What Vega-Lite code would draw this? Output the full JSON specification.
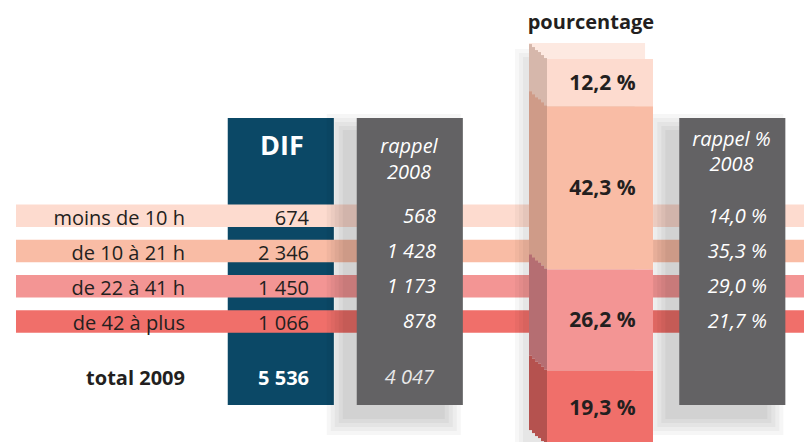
{
"$schema":"https://vega.github.io/schema/vega-lite/v6.json",
"width":804,"height":442,"padding":0,"autosize":{"type":"none"},
"background":"#ffffff",
"config":{"view":{"stroke":null},"axis":{"disable":true},"legend":{"disable":true},"text":{"font":"Open Sans"},
"locale":{"number":{"decimal":",","thousands":" ","grouping":[3],"currency":["","\u00a0€"],"percent":" %"}}},
"datasets":{
"lignes":[
{"categorie":"moins de 10 h","ordre":1,"dif":674,"rappel":568,"part":0.122,"partRappel":0.140},
{"categorie":"de 10 à 21 h","ordre":2,"dif":2346,"rappel":1428,"part":0.423,"partRappel":0.353},
{"categorie":"de 22 à 41 h","ordre":3,"dif":1450,"rappel":1173,"part":0.262,"partRappel":0.290},
{"categorie":"de 42 à plus","ordre":4,"dif":1066,"rappel":878,"part":0.193,"partRappel":0.217}],
"totaux":[{"libelle":"total 2009","dif":5536,"rappel":4047}],
"colonnes":[{"colonne":"DIF"},{"colonne":"rappel 2008"},{"colonne":"rappel % 2008"}]
},
"layer":[
{"layer":[
{"data":{"name":"colonnes"},"transform":[{"filter":"datum.colonne === 'DIF'"}],
"mark":{"type":"rect","color":"#0b4866"},
"encoding":{"x":{"field":"colonne","type":"nominal","scale":{"type":"band","domain":["g1","g2","libellé","DIF","g3","rappel 2008","g4","g5","pourcentage","g6","rappel % 2008"],"paddingInner":0,"paddingOuter":0.7326,"align":0.574},"bandPosition":-0.31},
"x2":{"field":"colonne","bandPosition":1.335},
"y":{"datum":"h3","type":"nominal","scale":{"type":"band","domain":["h1","h2","h3","h4","h5","moins de 10 h","de 10 à 21 h","de 22 à 41 h","de 42 à plus","b1","total 2009"],"paddingInner":0,"paddingOuter":0.778,"align":0.405},"bandPosition":0.722},
"y2":{"datum":"total 2009","bandPosition":0.875}}},
{"data":{"name":"lignes"},"mark":{"type":"rect"},
"encoding":{"x":{"datum":"g1","type":"nominal","scale":{"type":"band","domain":["g1","g2","libellé","DIF","g3","rappel 2008","g4","g5","pourcentage","g6","rappel % 2008"],"paddingInner":0,"paddingOuter":0.7326,"align":0.574},"bandPosition":-0.593},
"x2":{"datum":"rappel % 2008","bandPosition":1.7},
"y":{"field":"categorie","type":"nominal","scale":{"type":"band","domain":["h1","h2","h3","h4","h5","moins de 10 h","de 10 à 21 h","de 22 à 41 h","de 42 à plus","b1","total 2009"],"paddingInner":0,"paddingOuter":0.778,"align":0.405},"bandPosition":0.18},
"y2":{"field":"categorie","bandPosition":0.82},
"color":{"field":"categorie","type":"nominal","scale":{"domain":["moins de 10 h","de 10 à 21 h","de 22 à 41 h","de 42 à plus"],"range":["#fddbcf","#f9bca5","#f39594","#f06f6a"]},"legend":null}}},
{"data":{"name":"colonnes"},"transform":[{"filter":"datum.colonne !== 'DIF'"}],
"mark":{"type":"rect","color":"#000000","opacity":0.035,"xOffset":-30,"x2Offset":-2,"yOffset":-4,"y2Offset":30},
"encoding":{"x":{"field":"colonne","type":"nominal","scale":{"type":"band","domain":["g1","g2","libellé","DIF","g3","rappel 2008","g4","g5","pourcentage","g6","rappel % 2008"],"paddingInner":0,"paddingOuter":0.7326,"align":0.574},"bandPosition":-0.31},
"x2":{"field":"colonne","bandPosition":1.335},
"y":{"datum":"h3","type":"nominal","scale":{"type":"band","domain":["h1","h2","h3","h4","h5","moins de 10 h","de 10 à 21 h","de 22 à 41 h","de 42 à plus","b1","total 2009"],"paddingInner":0,"paddingOuter":0.778,"align":0.405},"bandPosition":0.722},
"y2":{"datum":"total 2009","bandPosition":0.875}}},
{"data":{"name":"colonnes"},"transform":[{"filter":"datum.colonne !== 'DIF'"}],
"mark":{"type":"rect","color":"#000000","opacity":0.035,"xOffset":-26,"x2Offset":-6,"yOffset":0,"y2Offset":26},
"encoding":{"x":{"field":"colonne","type":"nominal","scale":{"type":"band","domain":["g1","g2","libellé","DIF","g3","rappel 2008","g4","g5","pourcentage","g6","rappel % 2008"],"paddingInner":0,"paddingOuter":0.7326,"align":0.574},"bandPosition":-0.31},
"x2":{"field":"colonne","bandPosition":1.335},
"y":{"datum":"h3","type":"nominal","scale":{"type":"band","domain":["h1","h2","h3","h4","h5","moins de 10 h","de 10 à 21 h","de 22 à 41 h","de 42 à plus","b1","total 2009"],"paddingInner":0,"paddingOuter":0.778,"align":0.405},"bandPosition":0.722},
"y2":{"datum":"total 2009","bandPosition":0.875}}},
{"data":{"name":"colonnes"},"transform":[{"filter":"datum.colonne !== 'DIF'"}],
"mark":{"type":"rect","color":"#000000","opacity":0.035,"xOffset":-22,"x2Offset":-10,"yOffset":4,"y2Offset":22},
"encoding":{"x":{"field":"colonne","type":"nominal","scale":{"type":"band","domain":["g1","g2","libellé","DIF","g3","rappel 2008","g4","g5","pourcentage","g6","rappel % 2008"],"paddingInner":0,"paddingOuter":0.7326,"align":0.574},"bandPosition":-0.31},
"x2":{"field":"colonne","bandPosition":1.335},
"y":{"datum":"h3","type":"nominal","scale":{"type":"band","domain":["h1","h2","h3","h4","h5","moins de 10 h","de 10 à 21 h","de 22 à 41 h","de 42 à plus","b1","total 2009"],"paddingInner":0,"paddingOuter":0.778,"align":0.405},"bandPosition":0.722},
"y2":{"datum":"total 2009","bandPosition":0.875}}},
{"data":{"name":"colonnes"},"transform":[{"filter":"datum.colonne !== 'DIF'"}],
"mark":{"type":"rect","color":"#000000","opacity":0.035,"xOffset":-18,"x2Offset":-14,"yOffset":8,"y2Offset":18},
"encoding":{"x":{"field":"colonne","type":"nominal","scale":{"type":"band","domain":["g1","g2","libellé","DIF","g3","rappel 2008","g4","g5","pourcentage","g6","rappel % 2008"],"paddingInner":0,"paddingOuter":0.7326,"align":0.574},"bandPosition":-0.31},
"x2":{"field":"colonne","bandPosition":1.335},
"y":{"datum":"h3","type":"nominal","scale":{"type":"band","domain":["h1","h2","h3","h4","h5","moins de 10 h","de 10 à 21 h","de 22 à 41 h","de 42 à plus","b1","total 2009"],"paddingInner":0,"paddingOuter":0.778,"align":0.405},"bandPosition":0.722},
"y2":{"datum":"total 2009","bandPosition":0.875}}},
{"data":{"name":"colonnes"},"transform":[{"filter":"datum.colonne !== 'DIF'"}],
"mark":{"type":"rect","color":"#000000","opacity":0.04,"xOffset":-14,"x2Offset":-18,"yOffset":12,"y2Offset":14},
"encoding":{"x":{"field":"colonne","type":"nominal","scale":{"type":"band","domain":["g1","g2","libellé","DIF","g3","rappel 2008","g4","g5","pourcentage","g6","rappel % 2008"],"paddingInner":0,"paddingOuter":0.7326,"align":0.574},"bandPosition":-0.31},
"x2":{"field":"colonne","bandPosition":1.335},
"y":{"datum":"h3","type":"nominal","scale":{"type":"band","domain":["h1","h2","h3","h4","h5","moins de 10 h","de 10 à 21 h","de 22 à 41 h","de 42 à plus","b1","total 2009"],"paddingInner":0,"paddingOuter":0.778,"align":0.405},"bandPosition":0.722},
"y2":{"datum":"total 2009","bandPosition":0.875}}},
{"data":{"name":"colonnes"},"transform":[{"filter":"datum.colonne !== 'DIF'"}],
"mark":{"type":"rect","color":"#636264"},
"encoding":{"x":{"field":"colonne","type":"nominal","scale":{"type":"band","domain":["g1","g2","libellé","DIF","g3","rappel 2008","g4","g5","pourcentage","g6","rappel % 2008"],"paddingInner":0,"paddingOuter":0.7326,"align":0.574},"bandPosition":-0.31},
"x2":{"field":"colonne","bandPosition":1.335},
"y":{"datum":"h3","type":"nominal","scale":{"type":"band","domain":["h1","h2","h3","h4","h5","moins de 10 h","de 10 à 21 h","de 22 à 41 h","de 42 à plus","b1","total 2009"],"paddingInner":0,"paddingOuter":0.778,"align":0.405},"bandPosition":0.722},
"y2":{"datum":"total 2009","bandPosition":0.875}}},
{"data":{"name":"lignes"},"mark":{"type":"text","align":"right","baseline":"alphabetic","dy":9,"fontSize":20,"color":"#231f20"},
"encoding":{"x":{"datum":"libellé","type":"nominal","scale":{"type":"band","domain":["g1","g2","libellé","DIF","g3","rappel 2008","g4","g5","pourcentage","g6","rappel % 2008"],"paddingInner":0,"paddingOuter":0.7326,"align":0.574},"bandPosition":0.027},
"y":{"field":"categorie","type":"nominal","scale":{"type":"band","domain":["h1","h2","h3","h4","h5","moins de 10 h","de 10 à 21 h","de 22 à 41 h","de 42 à plus","b1","total 2009"],"paddingInner":0,"paddingOuter":0.778,"align":0.405}},
"text":{"field":"categorie"}}},
{"data":{"name":"lignes"},"mark":{"type":"text","align":"right","baseline":"alphabetic","dy":9,"fontSize":20,"color":"#231f20"},
"encoding":{"x":{"datum":"DIF","type":"nominal","scale":{"type":"band","domain":["g1","g2","libellé","DIF","g3","rappel 2008","g4","g5","pourcentage","g6","rappel % 2008"],"paddingInner":0,"paddingOuter":0.7326,"align":0.574},"bandPosition":0.95},
"y":{"field":"categorie","type":"nominal","scale":{"type":"band","domain":["h1","h2","h3","h4","h5","moins de 10 h","de 10 à 21 h","de 22 à 41 h","de 42 à plus","b1","total 2009"],"paddingInner":0,"paddingOuter":0.778,"align":0.405}},
"text":{"field":"dif","type":"quantitative","format":",.0f"}}},
{"data":{"name":"lignes"},"mark":{"type":"text","align":"right","baseline":"alphabetic","dy":7,"fontSize":20,"fontStyle":"italic","color":"#ffffff"},
"encoding":{"x":{"datum":"rappel 2008","type":"nominal","scale":{"type":"band","domain":["g1","g2","libellé","DIF","g3","rappel 2008","g4","g5","pourcentage","g6","rappel % 2008"],"paddingInner":0,"paddingOuter":0.7326,"align":0.574},"bandPosition":0.919},
"y":{"field":"categorie","type":"nominal","scale":{"type":"band","domain":["h1","h2","h3","h4","h5","moins de 10 h","de 10 à 21 h","de 22 à 41 h","de 42 à plus","b1","total 2009"],"paddingInner":0,"paddingOuter":0.778,"align":0.405}},
"text":{"field":"rappel","type":"quantitative","format":",.0f"}}},
{"data":{"name":"lignes"},"mark":{"type":"text","align":"right","baseline":"alphabetic","dy":7,"fontSize":20,"fontStyle":"italic","color":"#ffffff"},
"encoding":{"x":{"datum":"rappel % 2008","type":"nominal","scale":{"type":"band","domain":["g1","g2","libellé","DIF","g3","rappel 2008","g4","g5","pourcentage","g6","rappel % 2008"],"paddingInner":0,"paddingOuter":0.7326,"align":0.574},"bandPosition":1.05},
"y":{"field":"categorie","type":"nominal","scale":{"type":"band","domain":["h1","h2","h3","h4","h5","moins de 10 h","de 10 à 21 h","de 22 à 41 h","de 42 à plus","b1","total 2009"],"paddingInner":0,"paddingOuter":0.778,"align":0.405}},
"text":{"field":"partRappel","type":"quantitative","format":".1%"}}},
{"data":{"name":"totaux"},"mark":{"type":"text","align":"right","baseline":"alphabetic","dy":-7,"fontSize":20,"fontWeight":"bold","color":"#231f20"},
"encoding":{"x":{"datum":"libellé","type":"nominal","scale":{"type":"band","domain":["g1","g2","libellé","DIF","g3","rappel 2008","g4","g5","pourcentage","g6","rappel % 2008"],"paddingInner":0,"paddingOuter":0.7326,"align":0.574},"bandPosition":0.027},
"y":{"field":"libelle","type":"nominal","scale":{"type":"band","domain":["h1","h2","h3","h4","h5","moins de 10 h","de 10 à 21 h","de 22 à 41 h","de 42 à plus","b1","total 2009"],"paddingInner":0,"paddingOuter":0.778,"align":0.405}},
"text":{"field":"libelle"}}},
{"data":{"name":"totaux"},"mark":{"type":"text","align":"right","baseline":"alphabetic","dy":-7,"fontSize":20,"fontWeight":"bold","color":"#ffffff"},
"encoding":{"x":{"datum":"DIF","type":"nominal","scale":{"type":"band","domain":["g1","g2","libellé","DIF","g3","rappel 2008","g4","g5","pourcentage","g6","rappel % 2008"],"paddingInner":0,"paddingOuter":0.7326,"align":0.574},"bandPosition":0.95},
"y":{"field":"libelle","type":"nominal","scale":{"type":"band","domain":["h1","h2","h3","h4","h5","moins de 10 h","de 10 à 21 h","de 22 à 41 h","de 42 à plus","b1","total 2009"],"paddingInner":0,"paddingOuter":0.778,"align":0.405}},
"text":{"field":"dif","type":"quantitative","format":",.0f"}}},
{"data":{"name":"totaux"},"mark":{"type":"text","align":"right","baseline":"alphabetic","dy":-8,"fontSize":20,"fontStyle":"italic","color":"#e8e8e8"},
"encoding":{"x":{"datum":"rappel 2008","type":"nominal","scale":{"type":"band","domain":["g1","g2","libellé","DIF","g3","rappel 2008","g4","g5","pourcentage","g6","rappel % 2008"],"paddingInner":0,"paddingOuter":0.7326,"align":0.574},"bandPosition":0.888},
"y":{"field":"libelle","type":"nominal","scale":{"type":"band","domain":["h1","h2","h3","h4","h5","moins de 10 h","de 10 à 21 h","de 22 à 41 h","de 42 à plus","b1","total 2009"],"paddingInner":0,"paddingOuter":0.778,"align":0.405}},
"text":{"field":"rappel","type":"quantitative","format":",.0f"}}},
{"data":{"values":[{}]},"mark":{"type":"text","text":"DIF","align":"center","baseline":"alphabetic","fontSize":27,"fontWeight":"bold","color":"#ffffff"},
"encoding":{"x":{"datum":"DIF","type":"nominal","scale":{"type":"band","domain":["g1","g2","libellé","DIF","g3","rappel 2008","g4","g5","pourcentage","g6","rappel % 2008"],"paddingInner":0,"paddingOuter":0.7326,"align":0.574},"bandPosition":0.53},
"y":{"datum":"h4","type":"nominal","scale":{"type":"band","domain":["h1","h2","h3","h4","h5","moins de 10 h","de 10 à 21 h","de 22 à 41 h","de 42 à plus","b1","total 2009"],"paddingInner":0,"paddingOuter":0.778,"align":0.405},"bandPosition":0.773}}},
{"data":{"values":[{}]},"mark":{"type":"text","text":["rappel","2008"],"lineHeight":26,"align":"center","baseline":"alphabetic","fontSize":20,"fontStyle":"italic","color":"#ffffff"},
"encoding":{"x":{"datum":"rappel 2008","type":"nominal","scale":{"type":"band","domain":["g1","g2","libellé","DIF","g3","rappel 2008","g4","g5","pourcentage","g6","rappel % 2008"],"paddingInner":0,"paddingOuter":0.7326,"align":0.574}},
"y":{"datum":"h4","type":"nominal","scale":{"type":"band","domain":["h1","h2","h3","h4","h5","moins de 10 h","de 10 à 21 h","de 22 à 41 h","de 42 à plus","b1","total 2009"],"paddingInner":0,"paddingOuter":0.778,"align":0.405},"bandPosition":0.716}}},
{"data":{"values":[{}]},"mark":{"type":"text","text":["rappel %","2008"],"lineHeight":25,"align":"center","baseline":"alphabetic","fontSize":20,"fontStyle":"italic","color":"#ffffff"},
"encoding":{"x":{"datum":"rappel % 2008","type":"nominal","scale":{"type":"band","domain":["g1","g2","libellé","DIF","g3","rappel 2008","g4","g5","pourcentage","g6","rappel % 2008"],"paddingInner":0,"paddingOuter":0.7326,"align":0.574}},
"y":{"datum":"h4","type":"nominal","scale":{"type":"band","domain":["h1","h2","h3","h4","h5","moins de 10 h","de 10 à 21 h","de 22 à 41 h","de 42 à plus","b1","total 2009"],"paddingInner":0,"paddingOuter":0.778,"align":0.405},"bandPosition":0.53}}},
{"data":{"values":[{}]},"mark":{"type":"text","text":"pourcentage","align":"center","baseline":"alphabetic","fontSize":20,"fontWeight":"bold","color":"#231f20"},
"encoding":{"x":{"datum":"pourcentage","type":"nominal","scale":{"type":"band","domain":["g1","g2","libellé","DIF","g3","rappel 2008","g4","g5","pourcentage","g6","rappel % 2008"],"paddingInner":0,"paddingOuter":0.7326,"align":0.574},"bandPosition":0.32},
"y":{"datum":"h1","type":"nominal","scale":{"type":"band","domain":["h1","h2","h3","h4","h5","moins de 10 h","de 10 à 21 h","de 22 à 41 h","de 42 à plus","b1","total 2009"],"paddingInner":0,"paddingOuter":0.778,"align":0.405},"bandPosition":0.19}}}
]},
{"layer":[
{"data":{"values":[{}]},"mark":{"type":"rect","color":"#000000","opacity":0.03,"xOffset":-14,"yOffset":-10,"y2Offset":12},
"encoding":{"x":{"datum":"pourcentage","type":"nominal","scale":{"type":"band","domain":["g1","g2","libellé","DIF","g3","rappel 2008","g4","g5","pourcentage","g6","rappel % 2008"],"paddingInner":0,"paddingOuter":0.7326,"align":0.574},"bandPosition":-0.64},
"x2":{"datum":"pourcentage","bandPosition":1.0},
"y":{"datum":1,"type":"quantitative","scale":{"type":"linear","domain":[0.008,1.153],"zero":false,"nice":false}},
"y2":{"datum":0}}},
{"data":{"values":[{}]},"mark":{"type":"rect","color":"#000000","opacity":0.03,"xOffset":-10,"yOffset":-6,"y2Offset":12},
"encoding":{"x":{"datum":"pourcentage","type":"nominal","scale":{"type":"band","domain":["g1","g2","libellé","DIF","g3","rappel 2008","g4","g5","pourcentage","g6","rappel % 2008"],"paddingInner":0,"paddingOuter":0.7326,"align":0.574},"bandPosition":-0.64},
"x2":{"datum":"pourcentage","bandPosition":1.0},
"y":{"datum":1,"type":"quantitative","scale":{"type":"linear","domain":[0.008,1.153],"zero":false,"nice":false}},
"y2":{"datum":0}}},
{"data":{"values":[{}]},"mark":{"type":"rect","color":"#000000","opacity":0.035,"xOffset":-6,"yOffset":-2,"y2Offset":12},
"encoding":{"x":{"datum":"pourcentage","type":"nominal","scale":{"type":"band","domain":["g1","g2","libellé","DIF","g3","rappel 2008","g4","g5","pourcentage","g6","rappel % 2008"],"paddingInner":0,"paddingOuter":0.7326,"align":0.574},"bandPosition":-0.64},
"x2":{"datum":"pourcentage","bandPosition":1.0},
"y":{"datum":1,"type":"quantitative","scale":{"type":"linear","domain":[0.008,1.153],"zero":false,"nice":false}},
"y2":{"datum":0}}},
{"data":{"values":[{}]},"mark":{"type":"rect","color":"#fde9e1","yOffset":-16},
"encoding":{"x":{"datum":"pourcentage","type":"nominal","scale":{"type":"band","domain":["g1","g2","libellé","DIF","g3","rappel 2008","g4","g5","pourcentage","g6","rappel % 2008"],"paddingInner":0,"paddingOuter":0.7326,"align":0.574},"bandPosition":-0.64},
"x2":{"datum":"pourcentage","bandPosition":1.16},
"y":{"datum":1,"type":"quantitative","scale":{"type":"linear","domain":[0.008,1.153],"zero":false,"nice":false}},
"y2":{"datum":1}}},
{"data":{"name":"lignes"},"transform":[{"stack":"part","groupby":[],"as":["p0","p1"],"sort":[{"field":"ordre","order":"descending"}]}],
"mark":{"type":"rect","yOffset":-15,"y2Offset":-15},
"encoding":{"x":{"datum":"pourcentage","type":"nominal","scale":{"type":"band","domain":["g1","g2","libellé","DIF","g3","rappel 2008","g4","g5","pourcentage","g6","rappel % 2008"],"paddingInner":0,"paddingOuter":0.7326,"align":0.574},"bandPosition":-0.6395},
"x2":{"datum":"pourcentage","bandPosition":-0.593},
"y":{"field":"p1","type":"quantitative","scale":{"type":"linear","domain":[0.008,1.153],"zero":false,"nice":false}},
"y2":{"field":"p0"},
"color":{"field":"categorie","type":"nominal","scale":{"domain":["moins de 10 h","de 10 à 21 h","de 22 à 41 h","de 42 à plus"],"range":["#d6b7ab","#cf9b88","#b56e72","#b5524f"]},"legend":null}}},
{"data":{"name":"lignes"},"transform":[{"stack":"part","groupby":[],"as":["p0","p1"],"sort":[{"field":"ordre","order":"descending"}]}],
"mark":{"type":"rect","yOffset":-12,"y2Offset":-12},
"encoding":{"x":{"datum":"pourcentage","type":"nominal","scale":{"type":"band","domain":["g1","g2","libellé","DIF","g3","rappel 2008","g4","g5","pourcentage","g6","rappel % 2008"],"paddingInner":0,"paddingOuter":0.7326,"align":0.574},"bandPosition":-0.593},
"x2":{"datum":"pourcentage","bandPosition":-0.5465},
"y":{"field":"p1","type":"quantitative","scale":{"type":"linear","domain":[0.008,1.153],"zero":false,"nice":false}},
"y2":{"field":"p0"},
"color":{"field":"categorie","type":"nominal","scale":{"domain":["moins de 10 h","de 10 à 21 h","de 22 à 41 h","de 42 à plus"],"range":["#d6b7ab","#cf9b88","#b56e72","#b5524f"]},"legend":null}}},
{"data":{"name":"lignes"},"transform":[{"stack":"part","groupby":[],"as":["p0","p1"],"sort":[{"field":"ordre","order":"descending"}]}],
"mark":{"type":"rect","yOffset":-9,"y2Offset":-9},
"encoding":{"x":{"datum":"pourcentage","type":"nominal","scale":{"type":"band","domain":["g1","g2","libellé","DIF","g3","rappel 2008","g4","g5","pourcentage","g6","rappel % 2008"],"paddingInner":0,"paddingOuter":0.7326,"align":0.574},"bandPosition":-0.5465},
"x2":{"datum":"pourcentage","bandPosition":-0.5},
"y":{"field":"p1","type":"quantitative","scale":{"type":"linear","domain":[0.008,1.153],"zero":false,"nice":false}},
"y2":{"field":"p0"},
"color":{"field":"categorie","type":"nominal","scale":{"domain":["moins de 10 h","de 10 à 21 h","de 22 à 41 h","de 42 à plus"],"range":["#d6b7ab","#cf9b88","#b56e72","#b5524f"]},"legend":null}}},
{"data":{"name":"lignes"},"transform":[{"stack":"part","groupby":[],"as":["p0","p1"],"sort":[{"field":"ordre","order":"descending"}]}],
"mark":{"type":"rect","yOffset":-7,"y2Offset":-7},
"encoding":{"x":{"datum":"pourcentage","type":"nominal","scale":{"type":"band","domain":["g1","g2","libellé","DIF","g3","rappel 2008","g4","g5","pourcentage","g6","rappel % 2008"],"paddingInner":0,"paddingOuter":0.7326,"align":0.574},"bandPosition":-0.5},
"x2":{"datum":"pourcentage","bandPosition":-0.4535},
"y":{"field":"p1","type":"quantitative","scale":{"type":"linear","domain":[0.008,1.153],"zero":false,"nice":false}},
"y2":{"field":"p0"},
"color":{"field":"categorie","type":"nominal","scale":{"domain":["moins de 10 h","de 10 à 21 h","de 22 à 41 h","de 42 à plus"],"range":["#d6b7ab","#cf9b88","#b56e72","#b5524f"]},"legend":null}}},
{"data":{"name":"lignes"},"transform":[{"stack":"part","groupby":[],"as":["p0","p1"],"sort":[{"field":"ordre","order":"descending"}]}],
"mark":{"type":"rect","yOffset":-4,"y2Offset":-4},
"encoding":{"x":{"datum":"pourcentage","type":"nominal","scale":{"type":"band","domain":["g1","g2","libellé","DIF","g3","rappel 2008","g4","g5","pourcentage","g6","rappel % 2008"],"paddingInner":0,"paddingOuter":0.7326,"align":0.574},"bandPosition":-0.4535},
"x2":{"datum":"pourcentage","bandPosition":-0.407},
"y":{"field":"p1","type":"quantitative","scale":{"type":"linear","domain":[0.008,1.153],"zero":false,"nice":false}},
"y2":{"field":"p0"},
"color":{"field":"categorie","type":"nominal","scale":{"domain":["moins de 10 h","de 10 à 21 h","de 22 à 41 h","de 42 à plus"],"range":["#d6b7ab","#cf9b88","#b56e72","#b5524f"]},"legend":null}}},
{"data":{"name":"lignes"},"transform":[{"stack":"part","groupby":[],"as":["p0","p1"],"sort":[{"field":"ordre","order":"descending"}]}],
"mark":{"type":"rect","yOffset":-1,"y2Offset":-1},
"encoding":{"x":{"datum":"pourcentage","type":"nominal","scale":{"type":"band","domain":["g1","g2","libellé","DIF","g3","rappel 2008","g4","g5","pourcentage","g6","rappel % 2008"],"paddingInner":0,"paddingOuter":0.7326,"align":0.574},"bandPosition":-0.407},
"x2":{"datum":"pourcentage","bandPosition":-0.36},
"y":{"field":"p1","type":"quantitative","scale":{"type":"linear","domain":[0.008,1.153],"zero":false,"nice":false}},
"y2":{"field":"p0"},
"color":{"field":"categorie","type":"nominal","scale":{"domain":["moins de 10 h","de 10 à 21 h","de 22 à 41 h","de 42 à plus"],"range":["#d6b7ab","#cf9b88","#b56e72","#b5524f"]},"legend":null}}},
{"data":{"name":"lignes"},"transform":[{"stack":"part","groupby":[],"as":["p0","p1"],"sort":[{"field":"ordre","order":"descending"}]}],
"mark":{"type":"rect"},
"encoding":{"x":{"datum":"pourcentage","type":"nominal","scale":{"type":"band","domain":["g1","g2","libellé","DIF","g3","rappel 2008","g4","g5","pourcentage","g6","rappel % 2008"],"paddingInner":0,"paddingOuter":0.7326,"align":0.574},"bandPosition":-0.36},
"x2":{"datum":"pourcentage","bandPosition":1.283},
"y":{"field":"p1","type":"quantitative","scale":{"type":"linear","domain":[0.008,1.153],"zero":false,"nice":false}},
"y2":{"field":"p0"},
"color":{"field":"categorie","type":"nominal","scale":{"domain":["moins de 10 h","de 10 à 21 h","de 22 à 41 h","de 42 à plus"],"range":["#fddbcf","#f9bca5","#f39594","#f06f6a"]},"legend":null}}},
{"data":{"name":"lignes"},"mark":{"type":"text","align":"center","baseline":"middle","dy":1,"fontSize":21,"fontWeight":"bold","color":"#231f20"},
"encoding":{"x":{"datum":"pourcentage","type":"nominal","scale":{"type":"band","domain":["g1","g2","libellé","DIF","g3","rappel 2008","g4","g5","pourcentage","g6","rappel % 2008"],"paddingInner":0,"paddingOuter":0.7326,"align":0.574}},
"y":{"field":"part","type":"quantitative","stack":"zero","bandPosition":0.5,"scale":{"type":"linear","domain":[0.008,1.153],"zero":false,"nice":false}},
"order":{"field":"ordre","sort":"descending"},
"detail":{"field":"categorie"},
"text":{"field":"part","type":"quantitative","format":".1%"}}}
],"resolve":{"scale":{"color":"independent"}}}
],
"resolve":{"scale":{"y":"independent","color":"independent"}}
}
